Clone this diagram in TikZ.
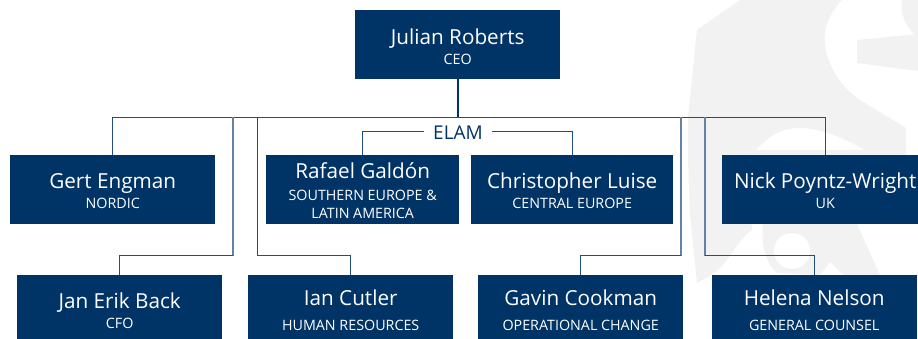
\documentclass[tikz,border=0pt]{standalone}
\usepackage{fontspec}
\setmainfont{Open Sans}
\definecolor{navy}{HTML}{003366}
\definecolor{wm}{HTML}{F2F2F2}
\definecolor{linec}{HTML}{1F4E80}
\tikzset{
  person/.style={fill=navy,draw=none,minimum height=69pt,inner sep=0pt,text=white,anchor=north west},
  link/.style={draw=linec,line width=0.9pt},
  soft/.style={draw=linec!70,line width=1.2pt},
}
% rows of a box: exact pitch between baselines, no interline glue
\newcommand{\stack}[1]{\vbox{\offinterlineskip\halign{\hfil##\hfil\cr #1\crcr}}}
\newcommand{\nm}[2]{\fontsize{20.7}{24}\selectfont\rule{0pt}{#1}\smash{#2}}
\newcommand{\rl}[2]{\fontsize{14.3}{17}\selectfont\rule{0pt}{#1}\smash{#2}}
\begin{document}
\begin{tikzpicture}[x=1pt,y=-1pt]
\useasboundingbox (0,0) rectangle (918,339);
\clip (0,0) rectangle (918,339);
% watermark
\fill[wm] (697,30) -- (740,0) -- (842,0) .. controls (828,15) and (823,30) .. (825,45)
  .. controls (828,70) and (845,90) .. (860,100) -- (906,128) -- (906,200) -- (883,160)
  .. controls (865,150) and (830,128) .. (800,128) .. controls (780,128) and (765,138) .. (752,155)
  -- (752,230) .. controls (737,240) and (730,262) .. (712,275) -- (697,283) -- (690,215) -- (688,160) -- (688,117) -- cycle;
\fill[wm] (752,150) -- (890,150) -- (890,224) -- (752,224) -- cycle;
\fill[wm] (857,40) -- (918,34) -- (918,71) -- (857,63) -- cycle;
\fill[wm] (902,0) -- (918,0) -- (918,36) -- (913,33) .. controls (905,25) and (900,12) .. (902,0) -- cycle;
\fill[wm] (763,224) -- (857,224) -- (880,275) -- (843,275) -- (830,262) -- (820,275) -- (777,273) .. controls (768,265) and (760,248) .. (763,224) -- cycle;
\fill[white] (792,251) circle[radius=18];
% nodes
\coordinate (bar) at (458,117);
\node[person,minimum width=205pt] (ceo) at (355,10) {\stack{\nm{20pt}{Julian Roberts}\cr\rl{20pt}{CEO}}};
\node[person,minimum width=205pt] (gert) at (10,155) {\stack{\nm{17pt}{Gert Engman}\cr\rl{20pt}{NORDIC}}};
\node[person,minimum width=193pt] (rafael) at (266,155) {\stack{\nm{17pt}{Rafael Galdón}\cr\rl{22pt}{SOUTHERN EUROPE \&}\cr\rl{18pt}{LATIN AMERICA}}};
\node[person,minimum width=202pt] (chris) at (471,155) {\stack{\nm{17pt}{Christopher Luise}\cr\rl{20pt}{CENTRAL EUROPE}}};
\node[person,minimum width=206pt] (nick) at (722,155) {\stack{\nm{17pt}{Nick Poyntz-Wright}\cr\rl{20pt}{UK}}};
\node[person,minimum width=205pt] (jan) at (17,275) {\stack{\nm{17pt}{Jan Erik Back}\cr\rl{20pt}{CFO}}};
\node[person,minimum width=205pt] (ian) at (248,275) {\stack{\nm{16pt}{Ian Cutler}\cr\rl{25pt}{HUMAN RESOURCES}}};
\node[person,minimum width=205pt] (gavin) at (478,275) {\stack{\nm{16pt}{Gavin Cookman}\cr\rl{25pt}{OPERATIONAL CHANGE}}};
\node[person,minimum width=205pt] (helena) at (711.5,275) {\stack{\nm{16pt}{Helena Nelson}\cr\rl{25pt}{GENERAL COUNSEL}}};
\node[text=navy,font=\fontsize{19}{22}\selectfont,inner sep=0pt] (elam) at (458,133) {ELAM};
% connectors
\draw[draw=navy,line width=1.4pt] (ceo.south -| bar) -- (bar);
\draw[link] (gert.north) |- (bar);
\draw[link] (nick.north) |- (bar);
\draw[soft] (233,117) -- (233,255.5);
\draw[link] (233,255.5) -| (jan.north);
\draw[link] (257.5,117) -- (257.5,255.5) -| (ian.north);
\draw[soft] (681,117) -- (681,255.5);
\draw[link] (681,255.5) -| (gavin.north);
\draw[soft] (705,117) -- (705,255.5);
\draw[link] (705,255.5) -| (helena.north);
\draw[link] (424,131) -| (rafael.north);
\draw[link] (492,131) -| (chris.north);
\end{tikzpicture}
\end{document}
